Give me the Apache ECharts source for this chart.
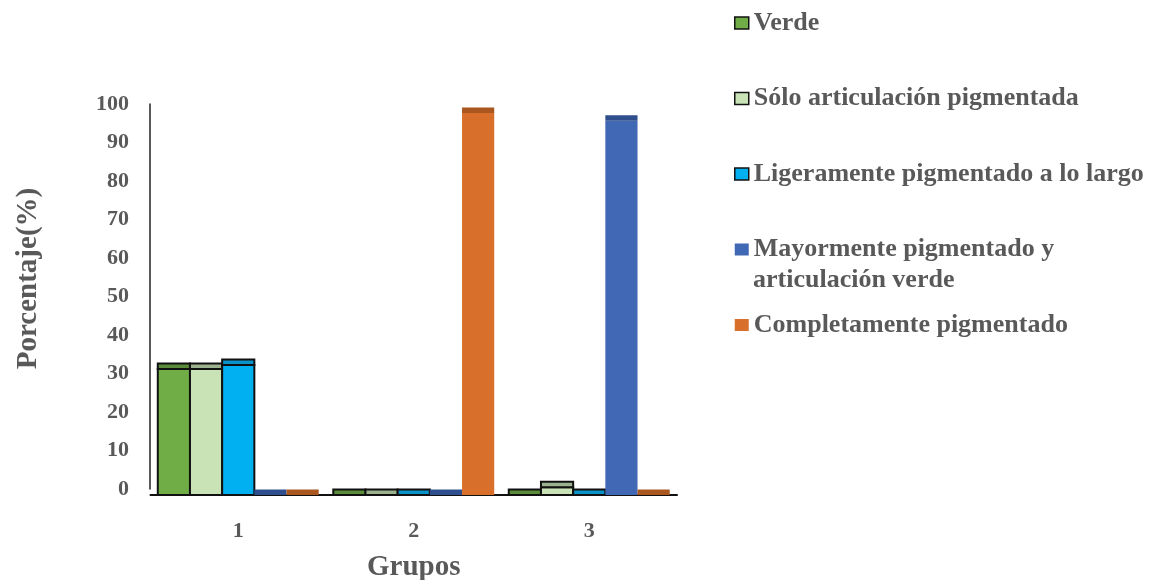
<!DOCTYPE html>
<html lang="es">
<head>
<meta charset="utf-8">
<title>Porcentaje por grupos</title>
<script src="https://cdn.jsdelivr.net/npm/echarts@6/dist/echarts.min.js"></script>
<style>
  html, body { margin: 0; padding: 0; background: #ffffff; }
  #chart { width: 1157px; height: 580px; }
</style>
</head>
<body>
<div id="chart"></div>
<script>
// Categories (x axis)
const categories = ['1', '2', '3'];

// Percentage of each pigmentation class per group
const verde = [33, 0, 0];
const soloArticulacion = [33, 0, 2];
const ligeramente = [34, 0, 0];
const mayormente = [0, 0, 98];
const completamente = [0, 100, 0];

// Y axis tick range
const yMin = 0;
const yMax = 100;
const yStep = 10;

const seriesNames = [
  'Verde',
  'Sólo articulación pigmentada',
  'Ligeramente pigmentado a lo largo',
  'Mayormente pigmentado y articulación verde',
  'Completamente pigmentado'
];
const seriesValues = [verde, soloArticulacion, ligeramente, mayormente, completamente];

// Front colour, top-face colour, outline for each series
const palette = [
  { front: '#70AD47', top: '#5B8C3A', stroke: '#111111', lw: 2 },
  { front: '#C9E2B6', top: '#9CB28E', stroke: '#111111', lw: 2 },
  { front: '#00B0F0', top: '#0A93C8', stroke: '#111111', lw: 2 },
  { front: '#4168B4', top: '#2E4E8E', stroke: null, lw: 0 },
  { front: '#D8702C', top: '#A9561F', stroke: null, lw: 0 }
];

const FONT = '"Liberation Serif", "Times New Roman", serif';
const TEXT_GRAY = '#595959';
const CAT_GAP = 0.083;   // share of the band left empty between groups
const TOP_DEPTH = 5.5;   // height of the shaded top face, px

function makeRenderItem(k) {
  const n = seriesValues.length;
  const c = palette[k];
  return function (params, api) {
    const cat = api.value(0);
    const val = api.value(1);
    const base = api.coord([cat, 0]);
    const topPt = api.coord([cat, val]);
    const band = api.size([1, 0])[0];
    const groupW = band * (1 - CAT_GAP);
    const bw = groupW / n;
    const x = base[0] - groupW / 2 + k * bw;
    const h = base[1] - topPt[1];
    const strokeStyle = c.stroke ? { stroke: c.stroke, lineWidth: c.lw } : { stroke: null };
    const children = [];
    if (h > 0) {
      children.push({
        type: 'rect',
        shape: { x: x, y: topPt[1], width: bw, height: h },
        style: Object.assign({ fill: c.front }, strokeStyle)
      });
    }
    children.push({
      type: 'rect',
      shape: { x: x, y: topPt[1] - TOP_DEPTH, width: bw, height: TOP_DEPTH },
      style: Object.assign({ fill: c.top }, strokeStyle)
    });
    return { type: 'group', children: children };
  };
}

const series = seriesNames.map(function (name, k) {
  return {
    name: name,
    type: 'custom',
    xAxisIndex: 0,
    yAxisIndex: 0,
    renderItem: makeRenderItem(k),
    itemStyle: { color: palette[k].front },
    encode: { x: 0, y: 1 },
    data: seriesValues[k].map(function (v, i) { return [i, v]; })
  };
});

const legendFirstLine = {
  'Mayormente pigmentado y articulación verde': 'Mayormente pigmentado y'
};

const chart = echarts.init(document.getElementById('chart'), null, { renderer: 'canvas' });

chart.setOption({
  backgroundColor: '#ffffff',
  animation: false,
  textStyle: { fontFamily: FONT },
  grid: [
    // front plane: bars
    { left: 150.5, top: 113, width: 526.5, height: 382, containLabel: false, outerBoundsMode: 'none' },
    // back plane: value axis
    { left: 150, top: 104, width: 526.5, height: 385, containLabel: false, outerBoundsMode: 'none' }
  ],
  xAxis: [
    {
      gridIndex: 0,
      type: 'category',
      data: categories,
      offset: 4,
      axisLine: { show: true, lineStyle: { color: '#111111', width: 2 } },
      axisTick: { show: false },
      axisLabel: {
        margin: 21,
        color: TEXT_GRAY,
        fontFamily: FONT,
        fontWeight: 'bold',
        fontSize: 22
      },
      name: 'Grupos',
      nameLocation: 'middle',
      nameGap: 54,
      nameTextStyle: {
        color: TEXT_GRAY,
        fontFamily: FONT,
        fontWeight: 'bold',
        fontSize: 29
      }
    },
    { gridIndex: 1, type: 'category', data: categories, show: false }
  ],
  yAxis: [
    { gridIndex: 0, type: 'value', min: yMin, max: yMax, interval: yStep, show: false },
    {
      gridIndex: 1,
      type: 'value',
      min: yMin,
      max: yMax,
      interval: yStep,
      axisLine: { show: true, lineStyle: { color: '#222222', width: 1.5 } },
      axisTick: { show: false },
      splitLine: { show: false },
      axisLabel: {
        margin: 21,
        color: TEXT_GRAY,
        fontFamily: FONT,
        fontWeight: 'bold',
        fontSize: 22
      },
      name: 'Porcentaje(%)',
      nameLocation: 'middle',
      nameRotate: 90,
      nameGap: 107,
      nameTextStyle: {
        color: TEXT_GRAY,
        fontFamily: FONT,
        fontWeight: 'bold',
        fontSize: 29,
        padding: [0, 0, 0, 36]
      }
    }
  ],
  legend: {
    orient: 'vertical',
    left: 734,
    top: 8,
    padding: 0,
    itemWidth: 14,
    itemHeight: 12,
    itemGap: 45.5,
    selectedMode: false,
    formatter: function (name) { return legendFirstLine[name] || name; },
    textStyle: {
      color: TEXT_GRAY,
      fontFamily: FONT,
      fontWeight: 'bold',
      fontSize: 26,
      lineHeight: 30
    },
    data: seriesNames.map(function (name, k) {
      const c = palette[k];
      return {
        name: name,
        icon: 'rect',
        itemStyle: c.stroke
          ? { color: c.front, borderColor: '#111111', borderWidth: 1.5 }
          : { color: c.front, borderWidth: 0 }
      };
    })
  },
  graphic: [
    {
      type: 'text',
      left: 753,
      top: 267,
      style: {
        text: 'articulación verde',
        fill: TEXT_GRAY,
        font: 'bold 26px ' + FONT
      }
    }
  ],
  series: series
});
</script>
</body>
</html>
